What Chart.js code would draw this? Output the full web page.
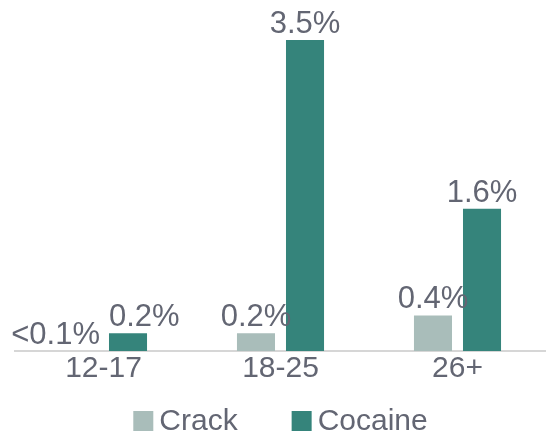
<!DOCTYPE html>
<html>
<head>
<meta charset="utf-8">
<script src="https://cdn.jsdelivr.net/npm/chart.js@4"></script>
<style>
  body { margin: 0; background: #fff; }
</style>
</head>
<body>
<canvas id="bar-chart" width="546" height="435"></canvas>
<script>
var ageGroups = ["12-17", "18-25", "26+"];
var crackVals = [0, 0.2, 0.4];
var cocaineVals = [0.2, 3.5, 1.6];

var txtColor = "#636673";
var fontFam = "'Liberation Sans', Arial, Helvetica, sans-serif";

const fmtPct = (v) => (v < 0.1 ? "<0.1%" : v.toFixed(1) + "%");

// value labels above each bar; when the two labels of a group would
// collide they get pushed apart (crack right-aligned, cocaine left-aligned)
const barLabels = {
  id: "barLabels",
  afterDatasetsDraw(chart) {
    let ctx = chart.ctx;
    ctx.save();
    ctx.font = "31px " + fontFam;
    ctx.fillStyle = txtColor;
    ctx.textBaseline = "alphabetic";
    let m0 = chart.getDatasetMeta(0).data;
    let m1 = chart.getDatasetMeta(1).data;
    chart.data.labels.forEach((_, j) => {
      let a = m0[j], b = m1[j];
      let ta = fmtPct(chart.data.datasets[0].data[j]);
      let tb = fmtPct(chart.data.datasets[1].data[j]);
      let wa = ctx.measureText(ta).width;
      let wb = ctx.measureText(tb).width;
      let ya = a.y - 7, yb = b.y - 7;
      let clash = a.x + wa / 2 > b.x - wb / 2 && Math.abs(ya - yb) < 30;
      if (clash) {
        ctx.textAlign = "right";
        ctx.fillText(ta, a.x + a.width / 2 + 2, ya);
        ctx.textAlign = "left";
        ctx.fillText(tb, b.x - b.width / 2, yb);
      } else {
        ctx.textAlign = "center";
        ctx.fillText(ta, a.x, ya);
        ctx.fillText(tb, b.x, yb);
      }
    });
    ctx.restore();
  },
};

// legend under the axis, small gap between swatch and text
const bottomLegend = {
  id: "bottomLegend",
  afterDraw(chart) {
    let ctx = chart.ctx;
    let area = chart.chartArea;
    ctx.save();
    ctx.font = "30px " + fontFam;
    ctx.textBaseline = "middle";
    let box = 20, gap = 6, spacing = 54;
    let items = chart.data.datasets.map((ds) => ({
      label: ds.label,
      color: ds.backgroundColor,
      w: box + gap + ctx.measureText(ds.label).width,
    }));
    let total = items.reduce((s, it) => s + it.w, 0) + spacing * (items.length - 1);
    let x = (area.left + area.right) / 2 - total / 2;
    let y = 421;
    items.forEach((it) => {
      ctx.fillStyle = it.color;
      ctx.fillRect(x, y - box / 2, box, box);
      ctx.fillStyle = txtColor;
      ctx.fillText(it.label, x + box + gap, y + 1);
      x += it.w + spacing;
    });
    ctx.restore();
  },
};

let drugChart = new Chart(document.getElementById("bar-chart"), {
  type: "bar",
  data: {
    labels: ageGroups,
    datasets: [
      {
        label: "Crack",
        data: crackVals,
        backgroundColor: "#a9bdba",
      },
      {
        label: "Cocaine",
        data: cocaineVals,
        backgroundColor: "#35847b",
      },
    ],
  },
  options: {
    responsive: false,
    animation: false,
    layout: {
      padding: { left: 15, right: 0, top: 0, bottom: 56 },
    },
    datasets: {
      bar: { categoryPercentage: 0.554, barPercentage: 0.776 },
    },
    plugins: {
      legend: { display: false },
      tooltip: { enabled: false },
    },
    scales: {
      x: {
        grid: { display: false },
        border: { display: true, color: "#d6d6d6", width: 2 },
        ticks: {
          color: txtColor,
          padding: 0,
          font: { size: 30, family: fontFam, lineHeight: 0.667 },
        },
      },
      y: {
        display: false,
        min: 0,
        max: 3.95,
      },
    },
  },
  plugins: [barLabels, bottomLegend],
});
</script>
</body>
</html>
